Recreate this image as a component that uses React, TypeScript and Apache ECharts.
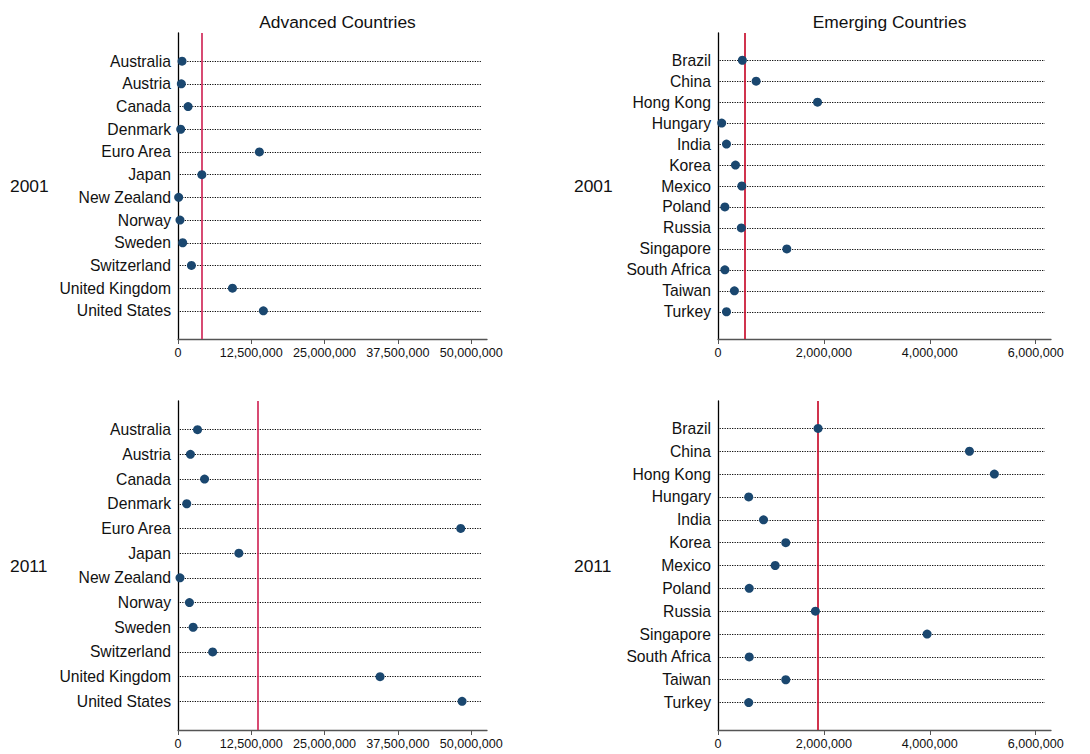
import React, { useEffect, useRef } from "react";
import * as echarts from "echarts";

const advancedCountries = [
  "Australia", "Austria", "Canada", "Denmark", "Euro Area", "Japan",
  "New Zealand", "Norway", "Sweden", "Switzerland", "United Kingdom", "United States",
];
const emergingCountries = [
  "Brazil", "China", "Hong Kong", "Hungary", "India", "Korea", "Mexico",
  "Poland", "Russia", "Singapore", "South Africa", "Taiwan", "Turkey",
];

const advanced2001 = [690000, 570000, 1720000, 460000, 13880000, 4070000, 110000, 340000, 800000, 2290000, 9290000, 14560000];
const advanced2011 = [3330000, 2120000, 4530000, 1490000, 48220000, 10380000, 340000, 1950000, 2580000, 5910000, 34460000, 48450000];
const emerging2001 = [460000, 720000, 1880000, 70000, 160000, 330000, 450000, 130000, 440000, 1300000, 130000, 310000, 160000];
const emerging2011 = [1890000, 4750000, 5220000, 580000, 860000, 1280000, 1080000, 590000, 1840000, 3950000, 590000, 1280000, 580000];

const advancedTicks = [0, 12500000, 25000000, 37500000, 50000000];
const emergingTicks = [0, 2000000, 4000000, 6000000];

const panelTitles = ["Advanced Countries", "Emerging Countries"];
const years = ["2001", "2011"];

const fmt = (v: number) => Math.round(v).toLocaleString("en-US");
const mean = (a: number[]) => a.reduce((s, v) => s + v, 0) / a.length;

export default function App() {
  const ref = useRef<HTMLDivElement>(null);
  useEffect(() => {
    if (!ref.current) return;
    const chart = echarts.init(ref.current, null, { renderer: "svg" });
    const font = "'Liberation Sans', Arial, Helvetica, sans-serif";

    const panels = [
      { cats: advancedCountries, vals: advanced2001, ticks: advancedTicks, xMax: 52700000, lineStart: 300000, lineEnd: 51650000, pad: 1.24, left: 178, top: 33, width: 309, height: 306, red: "#d12b5a" },
      { cats: emergingCountries, vals: emerging2001, ticks: emergingTicks, xMax: 6290000, lineStart: 30000, lineEnd: 6175000, pad: 1.3, left: 718, top: 33, width: 333, height: 306, red: "#c8102e" },
      { cats: advancedCountries, vals: advanced2011, ticks: advancedTicks, xMax: 52700000, lineStart: 300000, lineEnd: 51650000, pad: 1.16, left: 178, top: 401, width: 309, height: 329, red: "#d12b5a" },
      { cats: emergingCountries, vals: emerging2011, ticks: emergingTicks, xMax: 6290000, lineStart: 30000, lineEnd: 6175000, pad: 1.2, left: 718, top: 401, width: 333, height: 329, red: "#c8102e" },
    ];

    const grid = panels.map((p) => ({ left: p.left, top: p.top, width: p.width, height: p.height, containLabel: false }));

    const xAxis = panels.map((p, i) => ({
      type: "value",
      gridIndex: i,
      min: 0,
      max: p.xMax,
      axisLine: { show: true, onZero: false, lineStyle: { color: "#555", width: 1.3 } },
      axisTick: { show: true, length: 5, lineStyle: { color: "#555" }, customValues: p.ticks },
      axisLabel: {
        customValues: p.ticks,
        formatter: (v: number) => fmt(v),
        color: "#111",
        fontSize: 12.6,
        fontFamily: font,
        margin: 7,
      },
      splitLine: { show: false },
    }));

    const yAxis = panels.map((p, i) => ({
      type: "value",
      gridIndex: i,
      inverse: true,
      min: -p.pad,
      max: p.cats.length - 1 + p.pad,
      axisLine: { show: true, onZero: false, lineStyle: { color: "#000", width: 1.3 } },
      axisTick: { show: false },
      axisLabel: {
        customValues: p.cats.map((_, k) => k),
        formatter: (v: number) => p.cats[Math.round(v)] ?? "",
        color: "#111",
        fontSize: 15.7,
        fontFamily: font,
        margin: 7,
      },
      splitLine: { show: false },
    }));

    const series = panels.map((p, i) => ({
      type: "scatter",
      xAxisIndex: i,
      yAxisIndex: i,
      symbol: "circle",
      symbolSize: 9,
      itemStyle: { color: "#1a476f", opacity: 1 },
      data: p.vals.map((v, k) => [v, k]),
      z: 5,
      markLine: {
        silent: true,
        symbol: "none",
        label: { show: false },
        animation: false,
        data: [
          ...p.cats.map((_, k) => [
            { coord: [p.lineStart, k], lineStyle: { color: "#000", width: 1.2, type: [1.2, 1.3], opacity: 1 } },
            { coord: [p.lineEnd, k] },
          ]),
          [
            { coord: [mean(p.vals), -p.pad], lineStyle: { color: p.red, width: 1.7, type: "solid", opacity: 1 } },
            { coord: [mean(p.vals), p.cats.length - 1 + p.pad] },
          ],
        ],
      },
    }));

    const title = panelTitles.map((t, c) => ({
      text: t,
      left: panels[c].left + panels[c].width / 2,
      top: 8,
      textAlign: "center",
      textStyle: { fontSize: 17.4, fontWeight: "normal", color: "#111", fontFamily: font },
    }));

    const graphic = panels.map((p, i) => ({
      type: "text",
      x: i % 2 === 0 ? 10 : 574,
      y: p.top + p.height / 2,
      style: {
        text: years[Math.floor(i / 2)],
        fontSize: 17.4,
        fontFamily: font,
        fill: "#111",
        verticalAlign: "middle",
      },
    }));

    chart.setOption({
      animation: false,
      backgroundColor: "#fff",
      title,
      grid,
      xAxis,
      yAxis,
      series,
      graphic,
    } as any);
    return () => chart.dispose();
  }, []);
  return <div ref={ref} style={{ width: 1090, height: 754, position: "absolute", left: 0, top: 0 }} />;
}
